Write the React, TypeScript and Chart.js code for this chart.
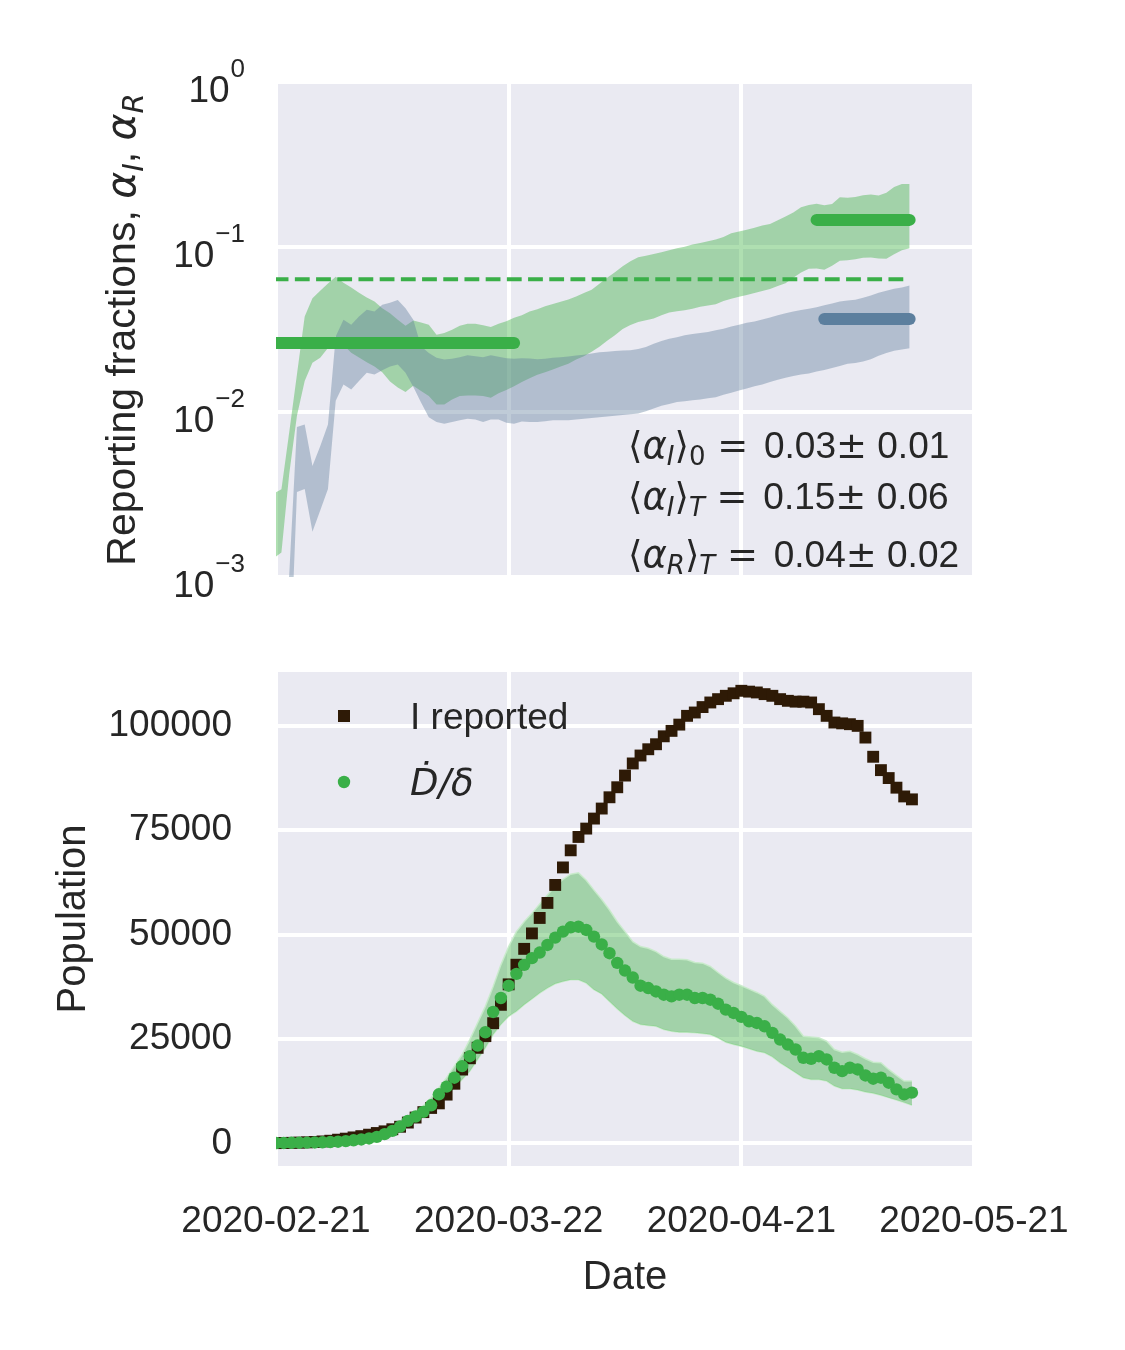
import React, { useEffect, useRef } from 'react';
import { Chart, registerables } from 'chart.js';

Chart.register(...registerables);

// ---------------------------------------------------------------- data

// x values are days after 2020-02-21
const START = Date.UTC(2020, 1, 21);
const xTicks = [0, 30, 60, 90];

// top panel: reporting fraction bands, one sample per day
// (the samples sit a little before each day's midnight)
const alphaShift = -0.3;

const alphaIHigh = [
  0.0032, 0.0034, 0.0075, 0.0169, 0.0379, 0.0489, 0.0543, 0.0601, 0.066, 0.0607,
  0.0569, 0.0528, 0.0495, 0.0467, 0.0426, 0.0397, 0.0362, 0.0333, 0.0359, 0.0349,
  0.0338, 0.0294, 0.0301, 0.0315, 0.0333, 0.0343, 0.0343, 0.0336, 0.0327, 0.0343,
  0.0355, 0.0372, 0.0386, 0.0407, 0.042, 0.0438, 0.0452, 0.0466, 0.0481, 0.0501,
  0.0526, 0.0551, 0.0598, 0.065, 0.0703, 0.0765, 0.082, 0.0868, 0.0884, 0.0908,
  0.0929, 0.0955, 0.0982, 0.1005, 0.1034, 0.1059, 0.1084, 0.111, 0.115, 0.121,
  0.124, 0.127, 0.131, 0.135, 0.138, 0.145, 0.153, 0.162, 0.174, 0.18,
  0.183, 0.179, 0.182, 0.2, 0.199, 0.201, 0.206, 0.208, 0.205, 0.213,
  0.231, 0.241, 0.241,
];
const alphaILow = [
  0.0013, 0.00141, 0.0042, 0.0095, 0.0154, 0.0199, 0.0213, 0.0244, 0.0287, 0.0255,
  0.0229, 0.0214, 0.02, 0.0189, 0.0174, 0.0153, 0.0141, 0.0132, 0.0144, 0.0134,
  0.0125, 0.0111, 0.0111, 0.0119, 0.0125, 0.0126, 0.0126, 0.0125, 0.0122, 0.013,
  0.0136, 0.0143, 0.0152, 0.016, 0.0168, 0.0174, 0.0181, 0.0189, 0.0196, 0.0208,
  0.0218, 0.0232, 0.0249, 0.027, 0.0292, 0.0318, 0.0337, 0.0351, 0.036, 0.0369,
  0.0386, 0.0401, 0.0408, 0.0413, 0.0423, 0.0435, 0.0442, 0.045, 0.0471, 0.0486,
  0.05, 0.0512, 0.0527, 0.0542, 0.0557, 0.058, 0.0603, 0.065, 0.07, 0.0737,
  0.074, 0.0727, 0.0769, 0.0824, 0.0832, 0.0844, 0.086, 0.0864, 0.0852, 0.0848,
  0.0905, 0.0955, 0.0982,
];
const alphaRHigh = [
  0.0002, 0.0004, 0.00102, 0.0081, 0.0084, 0.0047, 0.0062, 0.0084, 0.0287, 0.0362,
  0.0338, 0.0379, 0.0416, 0.0406, 0.0446, 0.046, 0.0478, 0.0426, 0.0362, 0.025,
  0.0228, 0.0213, 0.0208, 0.021, 0.0215, 0.0221, 0.0218, 0.0215, 0.0221, 0.0216,
  0.0212, 0.021, 0.0212, 0.0211, 0.0209, 0.021, 0.0213, 0.0215, 0.0217, 0.022,
  0.0222, 0.0226, 0.023, 0.0232, 0.0234, 0.0236, 0.0237, 0.0241, 0.0248, 0.0259,
  0.0269, 0.0278, 0.0284, 0.0292, 0.0297, 0.0301, 0.0305, 0.0313, 0.032, 0.033,
  0.0338, 0.0347, 0.0353, 0.0364, 0.0374, 0.0386, 0.0397, 0.0406, 0.0415, 0.0423,
  0.0431, 0.0443, 0.0454, 0.0468, 0.0474, 0.0479, 0.0492, 0.0508, 0.0528, 0.0543,
  0.0559, 0.0569, 0.0584,
];
const alphaRLow = [
  0.00005, 0.0001, 0.0002, 0.00327, 0.00342, 0.00188, 0.00253, 0.00342, 0.0117, 0.0147,
  0.0137, 0.0154, 0.0173, 0.0169, 0.0179, 0.0189, 0.0194, 0.0173, 0.0142, 0.0114,
  0.0093, 0.0087, 0.0085, 0.0087, 0.0089, 0.0091, 0.009, 0.0087, 0.009, 0.009,
  0.0086, 0.0085, 0.00875, 0.0087, 0.0087, 0.0088, 0.0089, 0.0089, 0.0089, 0.009,
  0.0091, 0.0092, 0.0093, 0.0094, 0.0095, 0.0096, 0.0097, 0.0098, 0.0101, 0.0105,
  0.0109, 0.0112, 0.0115, 0.0116, 0.0118, 0.0119, 0.0121, 0.0123, 0.0127, 0.0131,
  0.0135, 0.0139, 0.0143, 0.0147, 0.0152, 0.0157, 0.0161, 0.0165, 0.0169, 0.0171,
  0.0176, 0.018, 0.0185, 0.019, 0.0196, 0.0198, 0.0202, 0.0209, 0.0219, 0.0228,
  0.0235, 0.0239, 0.0243,
];

// averages drawn as horizontal bars
const alphaIMean = 0.0638; // dashed, whole period
const alphaI0 = 0.0262; // first month  (index 0..31)
const alphaIT = 0.146; // last two weeks (index 70..82)
const alphaRT = 0.0366; // last two weeks (index 71..82)

const logTicks = [1e-3, 1e-2, 1e-1, 1];

const statLines = [
  { name: 'I', sub: '0', value: '0.03', err: '0.01' },
  { name: 'I', sub: 'T', value: '0.15', err: '0.06' },
  { name: 'R', sub: 'T', value: '0.04', err: '0.02' },
];

// bottom panel, one value per day from 2020-02-21
const iReported = [
  80, 110, 150, 200, 260, 350, 480, 650, 900, 1150,
  1450, 1750, 2100, 2500, 2900, 3400, 4000, 5000, 6200, 7500,
  8500, 9600, 11700, 14300, 17700, 20400, 22900, 25700, 28800, 33200,
  38100, 42800, 46600, 50300, 54000, 57600, 61900, 66100, 70200, 73400,
  75400, 77800, 80200, 82900, 85300, 88100, 91000, 92900, 94400, 95600,
  97500, 98800, 100300, 102400, 103200, 104500, 105600, 106400, 107200, 107800,
  108400, 108200, 108000, 107600, 107200, 106400, 106000, 105800, 105800, 105600,
  104000, 102400, 100800, 100600, 100400, 100000, 97200, 92600, 89400, 87500,
  85200, 83100, 82400,
];
const dDot = [
  100, 120, 150, 180, 200, 230, 270, 330, 420, 550,
  750, 950, 1200, 1580, 2230, 3020, 4060, 5400, 6440, 7550,
  9140, 11770, 13600, 15750, 18520, 20900, 23450, 26630, 31490, 34830,
  37770, 40620, 42770, 44370, 45710, 47540, 49290, 50720, 51770, 51910,
  51120, 49530, 47660, 45560, 43250, 41400, 39740, 37770, 37210, 36400,
  35620, 35210, 35620, 35620, 34830, 34830, 34420, 33470, 32040, 31250,
  30300, 29250, 28860, 28050, 26480, 24880, 23690, 22500, 20520, 20280,
  20900, 20110, 18130, 17320, 18130, 17720, 16290, 15510, 15750, 14550,
  12950, 11760, 12170,
];
const dDotHigh = [
  150, 170, 200, 240, 270, 310, 360, 440, 560, 720,
  960, 1200, 1500, 1950, 2700, 3650, 4850, 6400, 7650, 9000,
  10970, 13360, 15750, 18520, 21300, 24880, 28860, 32830, 37600, 42770,
  47140, 50720, 53100, 55100, 57320, 59470, 61620, 63220, 64480, 64800,
  63050, 60660, 58400, 55900, 53100, 50720, 48330, 47140, 46760, 45950,
  44750, 44130, 44130, 43970, 43320, 43180, 42370, 40940, 39600, 38550,
  37760, 36970, 36160, 35210, 33230, 31630, 30060, 28050, 25670, 25520,
  25290, 24480, 22500, 21850, 22090, 21300, 20280, 19470, 19320, 17720,
  16290, 14930, 14930,
];
const dDotLow = [
  60, 75, 100, 125, 140, 160, 190, 230, 290, 390,
  540, 700, 900, 1200, 1750, 2400, 3300, 4400, 5300, 6500,
  8180, 9780, 11360, 13360, 15340, 17320, 20110, 22900, 26070, 28460,
  30440, 31630, 33230, 34590, 36020, 37210, 38240, 38790, 39190, 39190,
  38410, 36810, 35800, 34000, 32240, 30640, 29250, 28460, 28220, 28050,
  27270, 26860, 26620, 26620, 26480, 26310, 26070, 25290, 24240, 23690,
  23280, 22660, 22090, 21710, 20750, 19320, 18130, 16940, 15740, 15340,
  15340, 14930, 13740, 13120, 13120, 12790, 12310, 12000, 11520, 10970,
  10400, 9780, 9140,
];
const popTicks = [0, 25000, 50000, 75000, 100000];

// ---------------------------------------------------------------- style

const SANS = '"Liberation Sans", Arial, sans-serif';
const MATH = '"DejaVu Sans", sans-serif';
const INK = '#262626';
const AXES_BG = '#eaeaf2';
const GREEN = 'rgb(58,175,72)';
const GREEN_FILL = 'rgba(56,176,60,0.4)';
const BLUE = 'rgb(92,127,158)';
const BLUE_FILL = 'rgba(96,126,155,0.4)';
const BROWN = '#2e1a06';
const BAND_EDGE = 'rgba(200,235,202,0.9)';
const NONE = 'rgba(0,0,0,0)';

const dayLabel = (v: number) => new Date(START + v * 86400000).toISOString().slice(0, 10);

type Seg = { t: string; f: string; dy?: number; dx?: number };

function segsWidth(ctx: CanvasRenderingContext2D, segs: Seg[]) {
  let w = 0;
  for (const s of segs) {
    ctx.font = s.f;
    w += ctx.measureText(s.t).width + (s.dx || 0);
  }
  return w;
}

function drawSegs(ctx: CanvasRenderingContext2D, segs: Seg[], x: number, y: number) {
  let cx = x;
  for (const s of segs) {
    ctx.font = s.f;
    cx += s.dx || 0;
    ctx.fillText(s.t, cx, y + (s.dy || 0));
    cx += ctx.measureText(s.t).width;
  }
}

const grid = { color: '#ffffff', lineWidth: 4, drawTicks: false };

const axesBg = {
  id: 'axesBg',
  beforeDraw(chart: any) {
    const { ctx, chartArea: a } = chart;
    ctx.save();
    ctx.fillStyle = AXES_BG;
    ctx.fillRect(a.left, a.top, a.right - a.left, a.bottom - a.top);
    ctx.restore();
  },
};

const topText = {
  id: 'topText',
  afterDraw(chart: any) {
    const { ctx, chartArea: a } = chart;
    const yScale = chart.scales.y;
    ctx.save();
    ctx.fillStyle = INK;
    ctx.textAlign = 'left';
    ctx.textBaseline = 'alphabetic';

    // 10^n tick labels
    for (const v of logTicks) {
      const py = yScale.getPixelForValue(v);
      const exp = String(Math.round(Math.log10(v))).replace('-', '\u2212');
      ctx.font = `26px ${SANS}`;
      const ew = ctx.measureText(exp).width;
      ctx.font = `37px ${SANS}`;
      const bw = ctx.measureText('10').width;
      const xe = a.left - 31 - ew;
      ctx.fillText('10', xe - bw - 1, py + 20);
      ctx.font = `26px ${SANS}`;
      ctx.fillText(exp, xe, py - 5);
    }

    // y axis title
    const big = `41px ${SANS}`;
    const it = `italic 41px ${MATH}`;
    const sub = `italic 29px ${MATH}`;
    const title: Seg[] = [
      { t: 'Reporting fractions, ', f: big },
      { t: 'α', f: it },
      { t: 'I', f: sub, dy: 8 },
      { t: ', ', f: big },
      { t: 'α', f: it },
      { t: 'R', f: sub, dy: 8 },
    ];
    const tw = segsWidth(ctx, title);
    ctx.save();
    ctx.translate(a.left - 141, (a.top + a.bottom) / 2);
    ctx.rotate(-Math.PI / 2);
    drawSegs(ctx, title, -tw / 2, 0);
    ctx.restore();

    // averages
    const m = `37px ${MATH}`;
    const mi = `italic 37px ${MATH}`;
    const ms = `26px ${MATH}`;
    const msi = `italic 26px ${MATH}`;
    const s = `37px ${SANS}`;
    const baselines = [376, 427, 485];
    statLines.forEach((l, i) => {
      const segs: Seg[] = [
        { t: '⟨', f: m },
        { t: 'α', f: mi },
        { t: l.name, f: msi, dy: 7 },
        { t: '⟩', f: m },
        { t: l.sub, f: /\d/.test(l.sub) ? ms : msi, dy: 7 },
        { t: ' = ', f: m },
        { t: l.value, f: s, dx: 4 },
        { t: '±', f: m },
        { t: ' ' + l.err, f: s },
      ];
      drawSegs(ctx, segs, a.left + 352, a.top + baselines[i]);
    });
    ctx.restore();
  },
};

const bottomLegend = {
  id: 'bottomLegend',
  afterDraw(chart: any) {
    const { ctx, chartArea: a } = chart;
    const mx = a.left + 68;
    const r1 = a.top + 44;
    const r2 = a.top + 110;
    ctx.save();
    ctx.fillStyle = BROWN;
    ctx.fillRect(mx - 6, r1 - 6, 12, 12);
    ctx.fillStyle = GREEN;
    ctx.beginPath();
    ctx.arc(mx, r2, 6.2, 0, Math.PI * 2);
    ctx.fill();
    ctx.fillStyle = INK;
    ctx.textAlign = 'left';
    ctx.textBaseline = 'alphabetic';
    ctx.font = `37px ${SANS}`;
    ctx.fillText('I reported', a.left + 134, r1 + 13);
    ctx.font = `italic 37px ${MATH}`;
    ctx.fillText('Ḋ/δ', a.left + 134, r2 + 13);
    ctx.restore();
  },
};

// ---------------------------------------------------------------- charts

const alphaPts = (ys: number[]) => ys.map((y, i) => ({ x: i + alphaShift, y }));
const alphaBar = (y: number, i0: number, i1: number) => [
  { x: i0 + alphaShift, y },
  { x: i1 + alphaShift, y },
];
const dayPts = (ys: number[]) => ys.map((y, i) => ({ x: i, y }));

// keep the plot box exactly where the axis widths put it
const noPad = (s: any) => {
  s.paddingTop = 0;
  s.paddingBottom = 0;
  s.paddingLeft = 0;
  s.paddingRight = 0;
};

function topConfig(): any {
  const last = alphaIHigh.length - 1;
  const band = { borderColor: NONE, borderWidth: 0, pointRadius: 0 };
  const bar = { borderWidth: 12, borderCapStyle: 'round', pointRadius: 0, fill: false, order: 1 };
  return {
    type: 'line',
    data: {
      datasets: [
        { ...band, data: alphaPts(alphaIHigh), fill: '+1', backgroundColor: GREEN_FILL, order: 5 },
        { ...band, data: alphaPts(alphaILow), fill: false, order: 5 },
        { ...band, data: alphaPts(alphaRHigh), fill: '+1', backgroundColor: BLUE_FILL, order: 4 },
        { ...band, data: alphaPts(alphaRLow), fill: false, order: 4 },
        {
          data: alphaBar(alphaIMean, 0, last),
          borderColor: GREEN,
          borderWidth: 4,
          borderDash: [14.8, 6.4],
          pointRadius: 0,
          fill: false,
          order: 2,
        },
        { ...bar, data: alphaBar(alphaI0, 0, 31), borderColor: GREEN },
        { ...bar, data: alphaBar(alphaIT, 70, last), borderColor: GREEN },
        { ...bar, data: alphaBar(alphaRT, 71, last), borderColor: BLUE },
      ],
    },
    options: {
      animation: false,
      responsive: false,
      devicePixelRatio: 1,
      events: [],
      layout: { padding: { left: 0, top: 82, right: 151, bottom: 0 } },
      plugins: { legend: { display: false }, tooltip: { enabled: false } },
      scales: {
        x: {
          type: 'linear',
          min: 0,
          max: 90,
          afterBuildTicks: (s: any) => {
            s.ticks = xTicks.map((value) => ({ value }));
          },
          ticks: { display: false },
          grid,
          border: { display: false },
          afterFit: (s: any) => {
            s.height = 43;
            noPad(s);
          },
        },
        y: {
          type: 'logarithmic',
          min: 1e-3,
          max: 1,
          afterBuildTicks: (s: any) => {
            s.ticks = logTicks.map((value) => ({ value }));
          },
          ticks: { display: false },
          grid,
          border: { display: false },
          afterFit: (s: any) => {
            s.width = 276;
            noPad(s);
          },
        },
      },
    },
    plugins: [axesBg, topText],
  };
}

function bottomConfig(): any {
  const edge = { borderColor: BAND_EDGE, borderWidth: 1.5, pointRadius: 0, order: 5 };
  return {
    type: 'line',
    data: {
      datasets: [
        {
          data: dayPts(iReported),
          showLine: false,
          pointStyle: 'rect',
          pointRadius: 8.4,
          pointBackgroundColor: BROWN,
          pointBorderWidth: 0,
          borderColor: NONE,
          order: 3,
        },
        {
          data: dayPts(dDot),
          showLine: false,
          pointStyle: 'circle',
          pointRadius: 6.2,
          pointBackgroundColor: GREEN,
          pointBorderWidth: 0,
          borderColor: NONE,
          order: 2,
        },
        { ...edge, data: dayPts(dDotHigh), fill: '+1', backgroundColor: GREEN_FILL },
        { ...edge, data: dayPts(dDotLow), fill: false },
      ],
    },
    options: {
      animation: false,
      responsive: false,
      devicePixelRatio: 1,
      events: [],
      layout: { padding: { left: 0, top: 52, right: 151, bottom: 0 } },
      plugins: { legend: { display: false }, tooltip: { enabled: false } },
      scales: {
        x: {
          type: 'linear',
          min: 0,
          max: 90,
          afterBuildTicks: (s: any) => {
            s.ticks = xTicks.map((value) => ({ value }));
          },
          ticks: {
            callback: (v: number) => dayLabel(v),
            font: { family: SANS, size: 37 },
            color: INK,
            padding: 34,
            maxRotation: 0,
            autoSkip: false,
          },
          grid,
          border: { display: false },
          title: {
            display: true,
            text: 'Date',
            font: { family: SANS, size: 40 },
            color: INK,
            padding: { top: 0, bottom: 48 },
          },
          afterFit: (s: any) => {
            s.height = 184;
            noPad(s);
          },
        },
        y: {
          min: -5400,
          max: 112900,
          afterBuildTicks: (s: any) => {
            s.ticks = popTicks.map((value) => ({ value }));
          },
          ticks: {
            callback: (v: number) => String(v),
            font: { family: SANS, size: 37 },
            color: INK,
            padding: 44,
          },
          grid,
          border: { display: false },
          title: {
            display: true,
            text: 'Population',
            font: { family: SANS, size: 40 },
            color: INK,
            padding: { top: 50, bottom: 0 },
          },
          afterFit: (s: any) => {
            s.width = 276;
            noPad(s);
          },
        },
      },
    },
    plugins: [axesBg, bottomLegend],
  };
}

export default function App() {
  const topRef = useRef<HTMLCanvasElement | null>(null);
  const bottomRef = useRef<HTMLCanvasElement | null>(null);

  useEffect(() => {
    const charts: Chart[] = [];
    if (topRef.current) charts.push(new Chart(topRef.current, topConfig()));
    if (bottomRef.current) charts.push(new Chart(bottomRef.current, bottomConfig()));
    return () => {
      charts.forEach((c) => c.destroy());
    };
  }, []);

  return (
    <div style={{ position: 'absolute', left: 0, top: 0, width: 1125, height: 1350, background: '#ffffff' }}>
      <canvas
        ref={topRef}
        width={1125}
        height={620}
        style={{ position: 'absolute', left: 0, top: 0, width: 1125, height: 620 }}
      />
      <canvas
        ref={bottomRef}
        width={1125}
        height={730}
        style={{ position: 'absolute', left: 0, top: 620, width: 1125, height: 730 }}
      />
    </div>
  );
}
